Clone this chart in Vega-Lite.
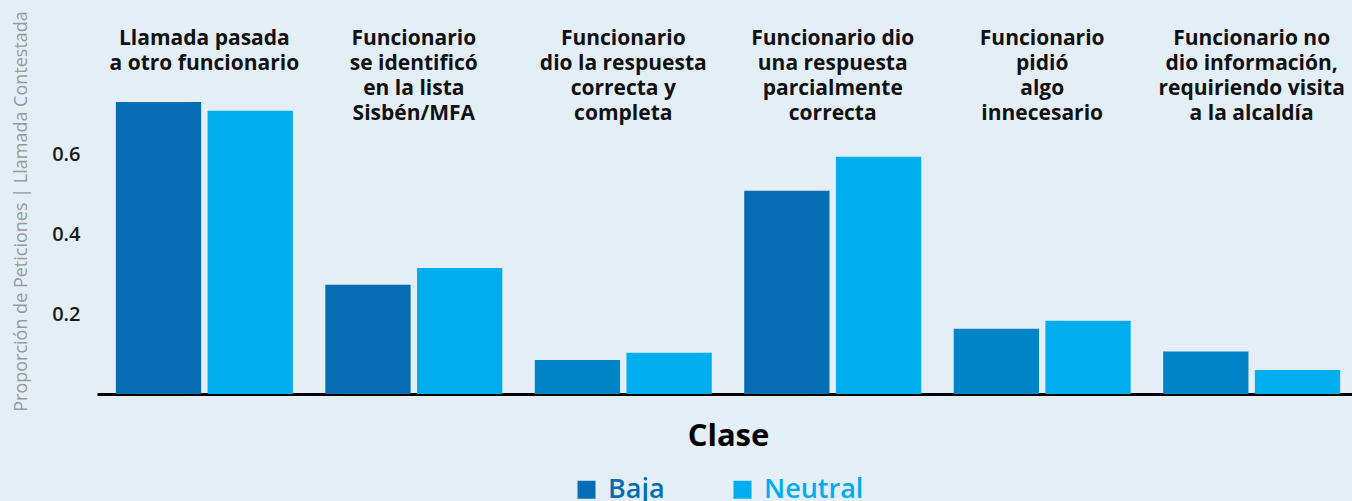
{
  "$schema": "https://vega.github.io/schema/vega-lite/v6.json",
  "width": 1262,
  "height": 366,
  "autosize": {"type": "none"},
  "padding": {"left": 97, "top": 28, "right": 0, "bottom": 107},
  "background": "#e4eef7",
  "config": {
    "view": {"stroke": null},
    "font": "Open Sans"
  },
  "data": {
    "values": [
      {"categoria": "Llamada pasada|a otro funcionario", "clase": "Baja", "valor": 0.73},
      {"categoria": "Llamada pasada|a otro funcionario", "clase": "Neutral", "valor": 0.708},
      {"categoria": "Funcionario|se identificó|en la lista|Sisbén/MFA", "clase": "Baja", "valor": 0.273},
      {"categoria": "Funcionario|se identificó|en la lista|Sisbén/MFA", "clase": "Neutral", "valor": 0.315},
      {"categoria": "Funcionario|dio la respuesta|correcta y|completa", "clase": "Baja", "valor": 0.085},
      {"categoria": "Funcionario|dio la respuesta|correcta y|completa", "clase": "Neutral", "valor": 0.103},
      {"categoria": "Funcionario dio|una respuesta|parcialmente|correcta", "clase": "Baja", "valor": 0.508},
      {"categoria": "Funcionario dio|una respuesta|parcialmente|correcta", "clase": "Neutral", "valor": 0.593},
      {"categoria": "Funcionario|pidió|algo|innecesario", "clase": "Baja", "valor": 0.163},
      {"categoria": "Funcionario|pidió|algo|innecesario", "clase": "Neutral", "valor": 0.183},
      {"categoria": "Funcionario no|dio información,|requiriendo visita|a la alcaldía", "clase": "Baja", "valor": 0.106},
      {"categoria": "Funcionario no|dio información,|requiriendo visita|a la alcaldía", "clase": "Neutral", "valor": 0.06}
    ]
  },
  "resolve": {"axis": {"x": "independent"}},
  "layer": [
    {
      "mark": {"type": "bar"},
      "encoding": {
        "x": {
          "field": "categoria",
          "type": "nominal",
          "sort": null,
          "scale": {"paddingInner": 0.155, "paddingOuter": 0.09},
          "axis": {
            "orient": "top",
            "title": null,
            "domain": false,
            "ticks": false,
            "labelAngle": 0,
            "labelBaseline": "top",
            "labelPadding": 1,
            "labelExpr": "split(datum.label, '|')",
            "labelFont": "Open Sans",
            "labelFontSize": 21,
            "labelFontWeight": "bold",
            "labelColor": "#111111",
            "labelLineHeight": 25,
            "labelLimit": 300
          }
        },
        "xOffset": {
          "field": "clase",
          "type": "nominal",
          "scale": {"paddingInner": 0.07}
        },
        "y": {
          "field": "valor",
          "type": "quantitative",
          "scale": {"domain": [0, 0.915], "nice": false},
          "axis": {
            "values": [0.2, 0.4, 0.6],
            "grid": false,
            "domain": false,
            "ticks": false,
            "labelFont": "Open Sans",
            "labelFontSize": 20,
            "labelFontWeight": 600,
            "labelColor": "#1a1a1a",
            "labelPadding": 17,
            "title": "Proporción de Peticiones | Llamada Contestada",
            "titleFont": "Open Sans",
            "titleFontSize": 18,
            "titleFontWeight": "normal",
            "titleColor": "#9a9a9a",
            "titlePadding": 21
          }
        },
        "color": {
          "field": "clase",
          "type": "nominal",
          "condition": {
            "test": "datum.clase === 'Baja' && (indexof(datum.categoria, 'correcta y') >= 0 || indexof(datum.categoria, 'pidió') >= 0 || indexof(datum.categoria, 'alcaldía') >= 0)",
            "value": "#0084c8"
          },
          "scale": {"domain": ["Baja", "Neutral"], "range": ["#066db4", "#00adef"]},
          "legend": {
            "orient": "none",
            "legendX": 476,
            "legendY": 448,
            "padding": 0,
            "direction": "horizontal",
            "title": null,
            "symbolType": "square",
            "symbolSize": 324,
            "symbolStrokeWidth": 0,
            "labelFont": "Open Sans",
            "labelFontSize": 27,
            "labelFontWeight": 600,
            "labelOffset": 8,
            "columnPadding": 64,
            "encode": {
              "labels": {"update": {"fill": {"signal": "scale('color', datum.value)"}}}
            }
          }
        }
      }
    },
    {
      "mark": {"type": "bar", "opacity": 0},
      "encoding": {
        "x": {
          "field": "categoria",
          "type": "nominal",
          "sort": null,
          "axis": {
            "orient": "bottom",
            "labels": false,
            "ticks": false,
            "domain": true,
            "domainColor": "#000000",
            "domainWidth": 3,
            "title": "Clase",
            "titleFont": "Open Sans",
            "titleFontSize": 31,
            "titleFontWeight": "bold",
            "titleColor": "#000000",
            "titlePadding": 27
          }
        }
      }
    }
  ]
}
